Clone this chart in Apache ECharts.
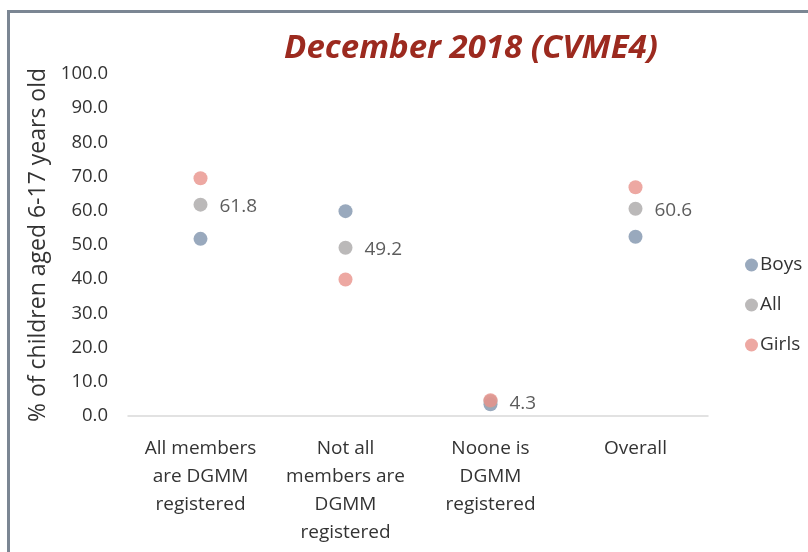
<!DOCTYPE html>
<html>
<head>
<meta charset="utf-8">
<style>
  html, body { margin: 0; padding: 0; background: #fff; }
  #chart { width: 808px; height: 552px; }
</style>
<script src="https://cdn.jsdelivr.net/npm/echarts@6/dist/echarts.min.js"></script>
</head>
<body>
<div id="chart"></div>
<script>
const categories = [
  "All members\nare DGMM\nregistered",
  "Not all\nmembers are\nDGMM\nregistered",
  "Noone is\nDGMM\nregistered",
  "Overall"
];
const boys = [51.8, 59.9, 3.4, 52.4];
const all = [61.8, 49.2, 4.3, 60.6];
const girls = [69.5, 39.9, 4.6, 66.9];

const COLORS = { boys: "#7f93ad", all: "#aaa7a7", girls: "#e8928b" };
const FONT = "'Open Sans', 'Noto Sans', sans-serif";
const TEXT = "#333333";

function dotSeries(name, values, color, withLabel) {
  return {
    name,
    type: "scatter",
    data: values,
    symbol: "circle",
    symbolSize: 14,
    itemStyle: { color },
    label: {
      show: withLabel,
      position: "right",
      distance: 12,
      offset: [0, 2],
      formatter: (p) => p.value.toFixed(1),
      color: TEXT,
      fontSize: 19,
      fontFamily: FONT
    },
    emphasis: { disabled: true }
  };
}

const chart = echarts.init(document.getElementById("chart"));
chart.setOption({
  animation: false,
  title: {
    text: "December 2018 (CVME4)",
    left: 466,
    textAlign: "center",
    top: 27,
    textStyle: {
      color: "#9c2a1f",
      fontSize: 33,
      fontStyle: "italic",
      fontWeight: "bold",
      fontFamily: FONT
    }
  },
  graphic: [
    {
      type: "polyline",
      shape: { points: [[8.5, 552], [8.5, 11.5], [808, 11.5]] },
      style: { stroke: "#7b8693", lineWidth: 3, fill: null }
    }
  ],
  legend: {
    orient: "vertical",
    left: 740,
    top: 249,
    itemGap: 18,
    itemWidth: 13,
    itemHeight: 13,
    icon: "circle",
    data: ["Boys", "All", "Girls"],
    textStyle: { color: TEXT, fontSize: 19, lineHeight: 22, fontFamily: FONT, padding: [0, 0, 0, -3] }
  },
  grid: { left: 128, right: 100, top: 74, bottom: 136 },
  xAxis: {
    type: "category",
    data: categories,
    axisLine: { lineStyle: { color: "#d9d9d9", width: 1.5 } },
    axisTick: { show: false },
    axisLabel: {
      color: TEXT,
      fontSize: 19,
      fontFamily: FONT,
      lineHeight: 28,
      margin: 19,
      interval: 0
    }
  },
  yAxis: {
    type: "value",
    min: 0,
    max: 100,
    interval: 10,
    name: "% of children aged 6-17 years old",
    nameLocation: "middle",
    nameGap: 76,
    nameTextStyle: { color: TEXT, fontSize: 23, fontFamily: FONT },
    splitLine: { show: false },
    axisLine: { show: false },
    axisTick: { show: false },
    axisLabel: {
      color: TEXT,
      fontSize: 18.5,
      fontFamily: FONT,
      margin: 20,
      formatter: (v) => v.toFixed(1)
    }
  },
  series: [
    dotSeries("Boys", boys, COLORS.boys, false),
    dotSeries("All", all, COLORS.all, true),
    dotSeries("Girls", girls, COLORS.girls, false)
  ]
});
</script>
</body>
</html>
